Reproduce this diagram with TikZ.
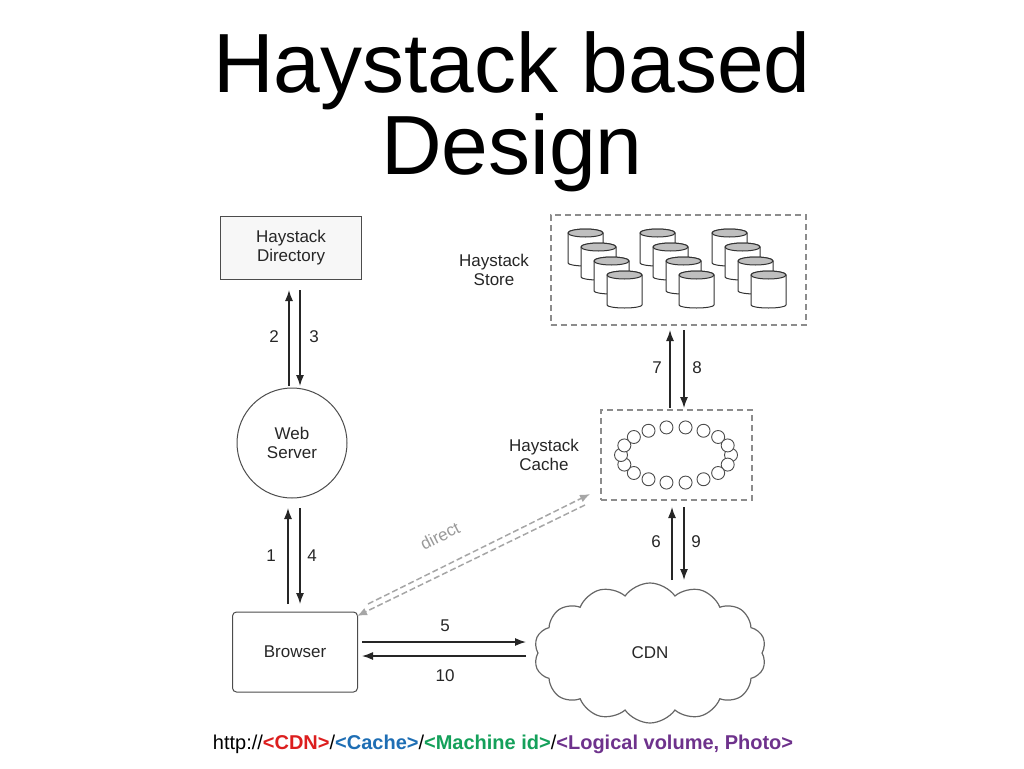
\documentclass[tikz,border=0pt]{standalone}
\usepackage{fontspec}
\setmainfont{Liberation Sans}
\usetikzlibrary{arrows.meta,shapes.symbols,shadows}
\definecolor{cdnred}{RGB}{220,30,30}
\definecolor{cacheblue}{RGB}{30,110,180}
\definecolor{machgreen}{RGB}{20,160,90}
\definecolor{logpurple}{RGB}{110,50,140}
\begin{document}
\begin{tikzpicture}[x=1pt,y=-1pt,
  lbl/.style={font=\fontsize{17}{19}\selectfont,align=center,text=black!85},
  arr/.style={-{Latex[length=11pt,width=8pt]},line width=1.3pt,black!85},
  dbox/.style={draw=black!45,dashed,dash pattern=on 6pt off 4pt,line width=2pt},
  cyl/.style={draw=black!80,line width=1pt,fill=white}]
\useasboundingbox (0,0) rectangle (1024,768);
% title
\node[font=\fontsize{84}{82}\selectfont,align=center] (title) at (512,112) {Haystack based\\Design};
% directory
\node[draw=black!70,fill=black!3,line width=1pt,minimum width=141pt,minimum height=63pt,lbl] (dir) at (291,248) {Haystack\\Directory};
% web server
\node[circle,draw=black!70,line width=1pt,minimum size=110pt,lbl] (web) at (292,443) {Web\\Server};
% browser
\node[draw=black!70,line width=1pt,rounded corners=4pt,minimum width=125pt,minimum height=80pt,lbl] (br) at (295,652) {Browser};
% cdn
\node[cloud,cloud puffs=14,cloud puff arc=110,aspect=1.6,draw=black!60,line width=1.2pt,minimum width=232pt,minimum height=140pt,lbl] (cdn) at (650,653) {CDN};
% cache
\node[dbox,minimum width=151pt,minimum height=90pt] (cache) at (676,455) {};
\foreach \a in {0,20,...,340}{
  \draw[black!70,line width=0.9pt,fill=white] ({676+55*cos(\a)},{455+28*sin(\a)}) circle (6.5pt);}
\node[lbl] (cachelbl) at (544,455) {Haystack\\Cache};
% store
\node[dbox,minimum width=255pt,minimum height=110pt] (store) at (678,270) {};
\node[lbl] (storelbl) at (494,270) {Haystack\\Store};
\foreach \g in {0,72,144}{
 \foreach \k in {0,1,2,3}{
  \pgfmathsetmacro\xx{568+\g+13*\k}
  \pgfmathsetmacro\yy{229+14*\k}
  \draw[cyl] (\xx,\yy+4) -- (\xx,\yy+34) arc[start angle=180,end angle=360,x radius=17.5pt,y radius=3pt] -- (\xx+35,\yy+4) arc[start angle=0,end angle=180,x radius=17.5pt,y radius=4pt] -- cycle;
  \draw[black!80,line width=1pt,fill=black!25] (\xx+17.5,\yy+4) ellipse (17.5pt and 4pt);
 }}
% coordinates for arrows
\coordinate (d1) at (289,290); \coordinate (d2) at (300,290);
\coordinate (w1) at (289,386); \coordinate (w2) at (300,386);
\coordinate (w3) at (288,508); \coordinate (w4) at (300,508);
\coordinate (b1) at (288,604); \coordinate (b2) at (300,604);
\coordinate (b3) at (362,642); \coordinate (b4) at (362,656);
\coordinate (c3) at (526,642); \coordinate (c4) at (526,656);
\coordinate (c1) at (672,580); \coordinate (c2) at (684,580);
\coordinate (h1) at (672,507); \coordinate (h2) at (684,507);
\coordinate (h3) at (670,408); \coordinate (h4) at (684,408);
\coordinate (s1) at (670,330); \coordinate (s2) at (684,330);
\draw[arr] (w1) -- (d1); \draw[arr] (d2) -- (w2);
\draw[arr] (b1) -- (w3); \draw[arr] (w4) -- (b2);
\draw[arr] (b3) -- (c3); \draw[arr] (c4) -- (b4);
\draw[arr] (c1) -- (h1); \draw[arr] (h2) -- (c2);
\draw[arr] (h3) -- (s1); \draw[arr] (s2) -- (h4);
\node[lbl] (n2) at (274,337) {2}; \node[lbl] (n3) at (314,337) {3};
\node[lbl] (n1) at (271,556) {1}; \node[lbl] (n4) at (312,556) {4};
\node[lbl] (n5) at (445,626) {5}; \node[lbl] (n10) at (445,676) {10};
\node[lbl] (n6) at (656,542) {6}; \node[lbl] (n9) at (696,542) {9};
\node[lbl] (n7) at (657,368) {7}; \node[lbl] (n8) at (697,368) {8};
% direct
\coordinate (x1) at (368,604); \coordinate (x2) at (590,494);
\coordinate (x3) at (357,616); \coordinate (x4) at (585,505);
\draw[black!35,line width=1.5pt,dashed,dash pattern=on 6pt off 3pt,-{Latex[length=10pt,width=8pt]}] (x1) -- (x2);
\draw[black!35,line width=1.5pt,dashed,dash pattern=on 6pt off 3pt,-{Latex[length=10pt,width=8pt]}] (x4) -- (x3);
\node[lbl,text=black!40,rotate=27] (direct) at (440,536) {direct};
% url
\node[font=\fontsize{20}{24}\selectfont] (url) at (503,744) {http://\textbf{\textcolor{cdnred}{<CDN>}}/\textbf{\textcolor{cacheblue}{<Cache>}}/\textbf{\textcolor{machgreen}{<Machine id>}}/\textbf{\textcolor{logpurple}{<Logical volume, Photo>}}};
\end{tikzpicture}
\end{document}
